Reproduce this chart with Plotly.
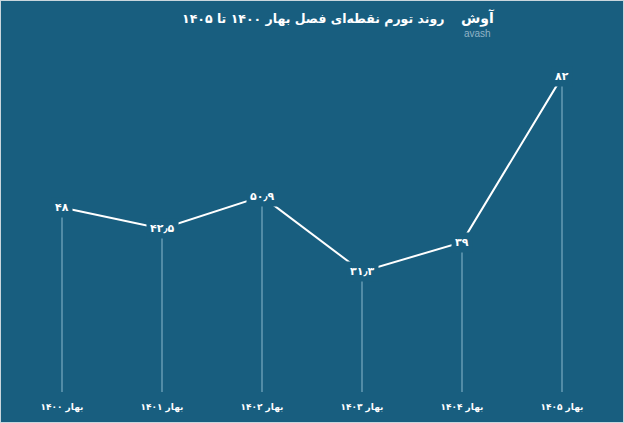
import plotly.graph_objects as go

# data
years = ['۱۴۰۰', '۱۴۰۱', '۱۴۰۲', '۱۴۰۳', '۱۴۰۴', '۱۴۰۵']
inflation = [48, 42.5, 50.9, 31.3, 39, 82]
season = 'بهار'
title_text = 'روند تورم نقطه‌ای فصل بهار ۱۴۰۰ تا ۱۴۰۵'

BG = '#185e7f'
FONT = 'DejaVu Sans, Noto Sans, sans-serif'

fa_digits = str.maketrans('0123456789.', '۰۱۲۳۴۵۶۷۸۹٫')


def to_fa(v):
    s = f'{v:g}'
    return s.translate(fa_digits)


categories = [f'<b>{season} {y}</b>' for y in years]

fig = go.Figure()

# thin drop lines from each point to the base (error bars down to zero)
fig.add_trace(go.Scatter(
    x=categories,
    y=inflation,
    mode='markers',
    marker=dict(size=1, color='rgba(0,0,0,0)'),
    error_y=dict(type='data', symmetric=False,
                 array=[0] * len(inflation), arrayminus=inflation,
                 width=0, thickness=1, color='rgba(190,225,240,0.7)'),
    hoverinfo='skip',
    showlegend=False
))

# the white trend line
fig.add_trace(go.Scatter(
    x=categories,
    y=inflation,
    mode='lines',
    line=dict(color='white', width=2),
    hovertemplate='%{x}: %{y}<extra></extra>',
    showlegend=False
))

# value labels with a background box so the lines stop short of them
for cat, val in zip(categories, inflation):
    fig.add_annotation(
        x=cat, y=val, text=f'<b>{to_fa(val)}</b>',
        showarrow=False, bgcolor=BG, borderpad=3,
        font=dict(family=FONT, size=11, color='white')
    )

# title and logo
fig.add_annotation(
    xref='paper', yref='paper', x=0.501, y=1, yshift=-19, yanchor='middle',
    text=f'<b>{title_text}</b>', showarrow=False,
    font=dict(family=FONT, size=12.5, color='white')
)
fig.add_annotation(
    xref='paper', yref='paper', x=0.797, y=1, yshift=-18, yanchor='middle',
    text='<b>آوش</b>', showarrow=False,
    font=dict(family=FONT, size=14, color='white')
)
fig.add_annotation(
    xref='paper', yref='paper', x=0.79, y=1, yshift=-33, yanchor='middle',
    text='avash', showarrow=False,
    font=dict(family='Liberation Sans, sans-serif', size=10, color='#8fb3c6')
)

# light frame around the picture
fig.add_shape(type='rect', xref='paper', yref='paper',
              x0=0, x1=1, y0=-31 / 392, y1=1,
              line=dict(color='#c9d6dd', width=2))

fig.update_xaxes(
    type='category',
    range=[-0.62, 5.62],
    showgrid=False, zeroline=False, showline=False,
    ticks='', ticklabelstandoff=8,
    tickfont=dict(family=FONT, size=9, color='white')
)
fig.update_yaxes(
    range=[0, 102],
    showgrid=False, zeroline=False, showline=False,
    showticklabels=False
)

fig.update_layout(
    width=624, height=423,
    margin=dict(t=0, b=31, l=0, r=0),
    plot_bgcolor=BG,
    paper_bgcolor=BG,
    font=dict(family=FONT, color='white'),
    showlegend=False
)

fig.write_html('out.html', config={'displayModeBar': False},
               post_script="document.body.style.margin='0';")
